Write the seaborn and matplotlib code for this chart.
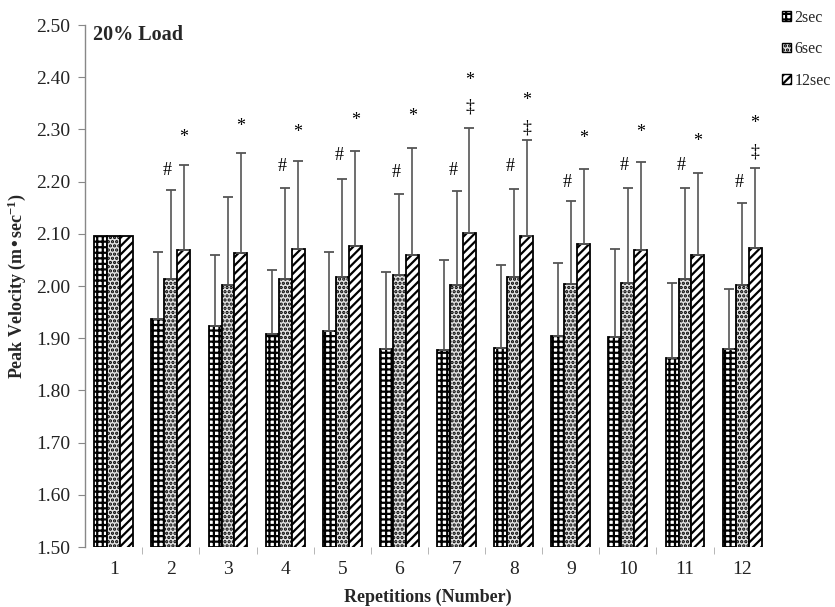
import numpy as np
import pandas as pd
import matplotlib
matplotlib.use("Agg")
import matplotlib.pyplot as plt
import seaborn as sns
from matplotlib.patches import Patch
from matplotlib.ticker import FormatStrFormatter, MultipleLocator, FixedLocator

reps = [str(i) for i in range(1, 13)]
series = ["2sec", "6sec", "12sec"]
mean_2 = [2.095, 1.937, 1.924, 1.909, 1.913, 1.880, 1.878, 1.881, 1.905, 1.903, 1.862, 1.879]
mean_6 = [2.095, 2.014, 2.001, 2.014, 2.018, 2.022, 2.001, 2.017, 2.003, 2.006, 2.014, 2.001]
mean_12 = [2.095, 2.069, 2.063, 2.071, 2.076, 2.059, 2.101, 2.096, 2.080, 2.069, 2.059, 2.072]
sd_2 = [0, 0.129, 0.135, 0.121, 0.153, 0.147, 0.171, 0.159, 0.140, 0.168, 0.143, 0.116]
sd_6 = [0, 0.169, 0.170, 0.174, 0.187, 0.154, 0.181, 0.169, 0.159, 0.182, 0.174, 0.158]
sd_12 = [0, 0.162, 0.192, 0.168, 0.182, 0.205, 0.202, 0.183, 0.144, 0.168, 0.158, 0.154]

# significance marks: repetition index, series index, symbol, height (data units)
mark_rep = [2, 2, 3, 4, 4, 5, 5, 6, 6, 7, 7, 7, 8, 8, 8, 9, 9, 10, 10, 11, 11, 12, 12, 12]
mark_ser = [1, 2, 2, 1, 2, 1, 2, 1, 2, 1, 2, 2, 1, 2, 2, 1, 2, 1, 2, 1, 2, 1, 2, 2]
mark_sym = ["#", "*", "*", "#", "*", "#", "*", "#", "*", "#", "\u2021", "*", "#", "\u2021", "*",
            "#", "*", "#", "*", "#", "*", "#", "\u2021", "*"]
mark_y = [2.221, 2.285, 2.306, 2.228, 2.295, 2.250, 2.317, 2.218, 2.325, 2.221, 2.343, 2.394,
          2.228, 2.302, 2.356, 2.199, 2.283, 2.231, 2.295, 2.231, 2.276, 2.199, 2.256, 2.311]

means = [mean_2, mean_6, mean_12]
sds = [sd_2, sd_6, sd_12]
df = pd.DataFrame({
    "rep": reps * 3,
    "series": np.repeat(series, len(reps)),
    "value": mean_2 + mean_6 + mean_12,
})

sns.set_style("white")
plt.rcParams["font.family"] = ["Liberation Serif", "DejaVu Serif"]
plt.rcParams["mathtext.default"] = "regular"
plt.rcParams["hatch.linewidth"] = 1.6

fig = plt.figure(figsize=(8.35, 6.07), dpi=100)
ax = fig.add_axes([0.102, 0.0988, 0.821, 0.86])

sns.barplot(data=df, x="rep", y="value", hue="series", order=reps, hue_order=series,
            width=0.68, ax=ax, legend=False, edgecolor="black", linewidth=1.3)

hatches = ["+++", "....", "////"]
faces = ["white", "#e2e2e2", "white"]
bar_containers = list(ax.containers)[:3]
bar_x = []
for ci, cont in enumerate(bar_containers):
    xs = []
    for bar in cont.patches:
        bar.set_hatch(hatches[ci])
        bar.set_facecolor(faces[ci])
        bar.set_edgecolor("black")
        xs.append(bar.get_x() + bar.get_width() / 2)
    bar_x.append(xs)
    for j in range(len(reps)):
        if sds[ci][j] > 0:
            ax.errorbar(xs[j], means[ci][j], yerr=[[0], [sds[ci][j]]], fmt="none",
                        ecolor="#555555", elinewidth=1.2, capsize=3.5, capthick=1.3, zorder=3)

for r, s, sym, y in zip(mark_rep, mark_ser, mark_sym, mark_y):
    xoff = -0.06 if sym == "#" else 0.0
    ax.text(bar_x[s][r - 1] + xoff, y, sym, ha="center", va="center", fontsize=13, color="black")

ax.set_ylim(1.5, 2.5)
ax.set_xlim(-0.5, 11.5)
ax.yaxis.set_major_locator(MultipleLocator(0.1))
ax.yaxis.set_major_formatter(FormatStrFormatter("%.2f"))
ax.tick_params(axis="y", which="major", direction="out", length=5, color="#888888",
               labelsize=14, left=True, pad=6, labelcolor="#222222")
ax.tick_params(axis="x", which="major", length=0, labelsize=14, pad=10, labelcolor="#222222")
ax.xaxis.set_minor_locator(FixedLocator(np.arange(0.5, 11.0, 1.0)))
ax.tick_params(axis="x", which="minor", bottom=True, direction="out", length=5, color="#aaaaaa")
for sp in ["top", "right", "bottom"]:
    ax.spines[sp].set_visible(False)
ax.spines["left"].set_color("#888888")
ax.spines["left"].set_linewidth(1.0)

ax.set_xlabel("Repetitions (Number)", fontsize=13, fontweight="bold", labelpad=8)
ax.set_ylabel("Peak Velocity (m\u2022sec$^{-1}$)", fontsize=13, fontweight="bold")
ax.yaxis.set_label_coords(-0.083, 0.5)

ax.text(0.012, 0.981, "20% Load", transform=ax.transAxes, ha="left", va="center",
        fontsize=14.5, fontweight="bold")

handles = [Patch(facecolor=faces[i], edgecolor="black", hatch=hatches[i], label=series[i])
           for i in range(3)]
fig.legend(handles=handles, loc="upper left", bbox_to_anchor=(0.925, 1.0), frameon=False,
           fontsize=11.5, handlelength=0.55, handleheight=0.55, handletextpad=0.25,
           labelspacing=0.98, borderaxespad=0.2)

fig.savefig("out.png", dpi=100)
